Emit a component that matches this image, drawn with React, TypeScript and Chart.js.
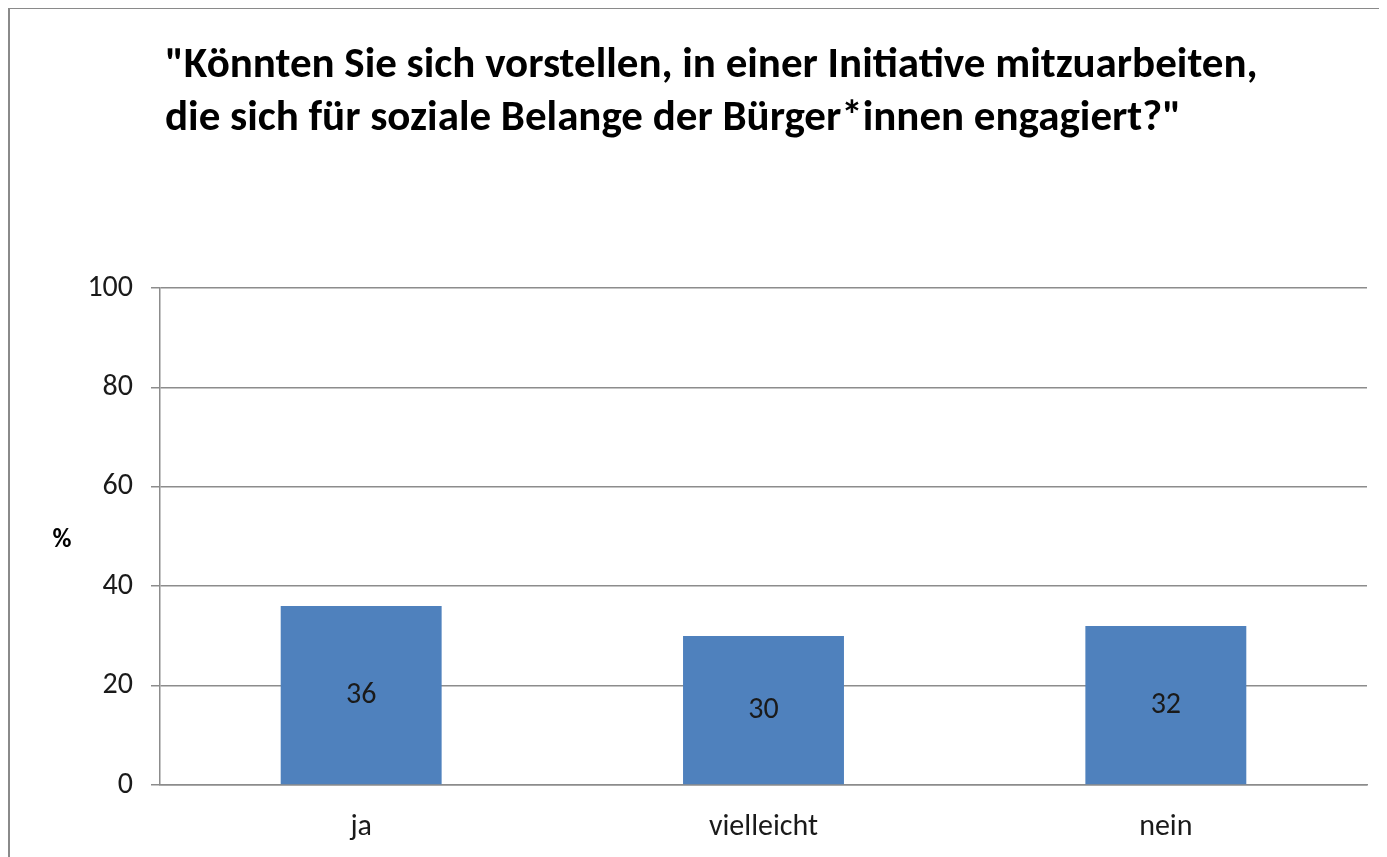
import React, { useEffect, useRef } from "react";
import { Chart, registerables } from "chart.js";

Chart.register(...registerables);

const TITLE_LINES = [
  "\"Könnten Sie sich vorstellen, in einer Initiative mitzuarbeiten,",
  "die sich für soziale Belange der Bürger*innen engagiert?\"",
];
const CATEGORIES = ["ja", "vielleicht", "nein"];
const VALUES = [36, 30, 32];
const Y_TICKS = [0, 20, 40, 60, 80, 100];
const Y_UNIT = "%";

const FONT = "Carlito, Lato, 'Open Sans', sans-serif";
const GRID = "#8c8c8c";

const overlay = {
  id: "overlay",
  afterDatasetsDraw(chart: any) {
    const ctx = chart.ctx;
    ctx.save();
    const meta = chart.getDatasetMeta(0);
    ctx.fillStyle = "#1a1a1a";
    ctx.font = `30px ${FONT}`;
    ctx.textAlign = "center";
    ctx.textBaseline = "middle";
    meta.data.forEach((bar: any, i: number) => {
      const y = (bar.y + bar.base) / 2;
      ctx.fillText(String(VALUES[i]), bar.x, y);
    });
    ctx.fillStyle = "#000";
    ctx.font = `bold 43px ${FONT}`;
    ctx.textAlign = "left";
    ctx.textBaseline = "alphabetic";
    ctx.fillText(TITLE_LINES[0], 155, 68);
    ctx.fillText(TITLE_LINES[1], 155, 121);
    ctx.font = `bold 26px ${FONT}`;
    ctx.textAlign = "center";
    ctx.textBaseline = "middle";
    ctx.fillText(Y_UNIT, 52, 531);
    ctx.restore();
  },
};

export default function App() {
  const ref = useRef<HTMLCanvasElement>(null);
  useEffect(() => {
    if (!ref.current) return;
    const chart = new Chart(ref.current, {
      type: "bar",
      data: {
        labels: CATEGORIES,
        datasets: [
          {
            data: VALUES,
            backgroundColor: "#4F81BD",
            categoryPercentage: 1,
            barPercentage: 0.4,
          },
        ],
      },
      options: {
        responsive: false,
        animation: false,
        layout: { padding: { left: 0, top: 279, right: 20, bottom: 0 } },
        plugins: {
          legend: { display: false },
          tooltip: { enabled: false },
          title: { display: false },
        },
        scales: {
          x: {
            grid: { display: false },
            border: { display: true, color: GRID, width: 1.5 },
            ticks: {
              color: "#1a1a1a",
              font: { family: FONT, size: 30 },
              padding: 16,
            },
            afterFit(scale: any) {
              scale.height = 72;
            },
          },
          y: {
            min: 0,
            max: 100,
            afterBuildTicks(scale: any) {
              scale.ticks = Y_TICKS.map((v) => ({ value: v }));
            },
            grid: { color: GRID, lineWidth: 1.5, tickLength: 9 },
            border: { display: true, color: GRID, width: 1.5 },
            ticks: {
              color: "#1a1a1a",
              font: { family: FONT, size: 30 },
              padding: 18,
            },
            afterFit(scale: any) {
              scale.width = 150;
            },
          },
        },
      },
      plugins: [overlay],
    });
    return () => chart.destroy();
  }, []);
  return (
    <div
      style={{
        margin: "-2px 0 0 -1px",
        borderTop: "3px solid #8a8a8a",
        borderLeft: "3px solid #8a8a8a",
        width: 1377,
        height: 848,
        overflow: "hidden",
      }}
    >
      <canvas ref={ref} width={1377} height={848} style={{ display: "block" }} />
    </div>
  );
}
